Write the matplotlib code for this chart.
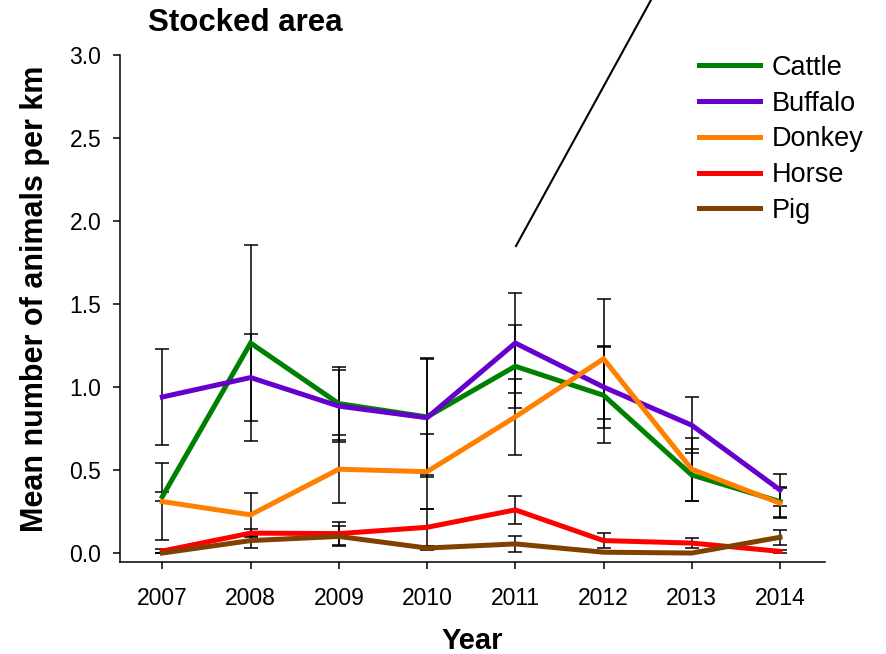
import matplotlib
matplotlib.use("Agg")
import matplotlib.pyplot as plt
from matplotlib.lines import Line2D

plt.rcParams['font.family'] = ['Liberation Sans', 'DejaVu Sans']

years = [2007, 2008, 2009, 2010, 2011, 2012, 2013, 2014]

cattle = [0.34, 1.265, 0.90, 0.82, 1.125, 0.95, 0.47, 0.31]
cattle_err = [0.027, 0.59, 0.22, 0.35, 0.25, 0.29, 0.157, 0.09]

buffalo = [0.94, 1.057, 0.885, 0.815, 1.265, 1.0, 0.77, 0.38]
buffalo_err = [0.29, 0.26, 0.215, 0.358, 0.30, 0.247, 0.17, 0.095]

donkey = [0.31, 0.23, 0.505, 0.49, 0.82, 1.17, 0.505, 0.30]
donkey_err = [0.23, 0.13, 0.205, 0.225, 0.23, 0.36, 0.19, 0.09]

horse = [0.012, 0.12, 0.117, 0.155, 0.26, 0.075, 0.06, 0.01]
horse_err = [0.012, 0.024, 0.07, 0.11, 0.085, 0.045, 0.03, 0.008]

pig = [0.0, 0.075, 0.10, 0.03, 0.055, 0.005, 0.0, 0.095]
pig_err = [0.0, 0.045, 0.06, 0.012, 0.048, 0.002, 0.0, 0.045]

series = [
    ("Cattle", cattle, cattle_err, "#008000"),
    ("Buffalo", buffalo, buffalo_err, "#6600CC"),
    ("Donkey", donkey, donkey_err, "#FF8000"),
    ("Horse", horse, horse_err, "#FF0000"),
    ("Pig", pig, pig_err, "#804000"),
]

W, H = 886, 654
fig = plt.figure(figsize=(W / 100, H / 100), dpi=100)
ax = fig.add_axes([120 / W, 1 - 562 / H, 705 / W, (562 - 55) / H])

for name, vals, errs, col in series:
    ax.errorbar(years, vals, yerr=errs, fmt='none', ecolor='black',
                elinewidth=1.1, capsize=5, capthick=1.1, zorder=2)
for name, vals, errs, col in series:
    ax.plot(years, vals, color=col, lw=3.6, label=name, zorder=3,
            solid_joinstyle='miter')

ax.set_xlim(2006.52, 2014.51)
ax.set_ylim(-0.054, 3.0)
ax.set_xticks(years)
ax.set_xticklabels([str(y) for y in years])
ax.set_yticks([0.0, 0.5, 1.0, 1.5, 2.0, 2.5, 3.0])
ax.set_yticklabels(["0.0", "0.5", "1.0", "1.5", "2.0", "2.5", "3.0"])

for s in ['top', 'right']:
    ax.spines[s].set_visible(False)
for s in ['left', 'bottom']:
    ax.spines[s].set_linewidth(1.1)
ax.tick_params(direction='out', length=5, width=1.1, labelsize=16.5)
ax.tick_params(axis='x', pad=13)
ax.tick_params(axis='y', pad=8.5)

ax.set_xlabel("Year", fontsize=21, fontweight='bold', labelpad=12)
ax.set_ylabel("Mean number of animals per km", fontsize=22, fontweight='bold')
ax.yaxis.set_label_coords(-0.10, 0.52)
fig.text(148 / W, 1 - 23 / H, "Stocked area", fontsize=22.5, fontweight='bold',
         ha='left', va='center')

leg = ax.legend(loc='upper left', bbox_to_anchor=(680 / W, 1 - 36 / H),
                bbox_transform=fig.transFigure, frameon=False, fontsize=19.5,
                handlelength=2.25, handletextpad=0.45, labelspacing=0.36,
                borderpad=0.2)
for l in leg.get_lines():
    l.set_linewidth(3.6)

fig.add_artist(Line2D([516 / W, 651 / W], [1 - 246 / H, 1.0],
                      transform=fig.transFigure, color='black', lw=1.5))

fig.savefig("out.png", dpi=100)
